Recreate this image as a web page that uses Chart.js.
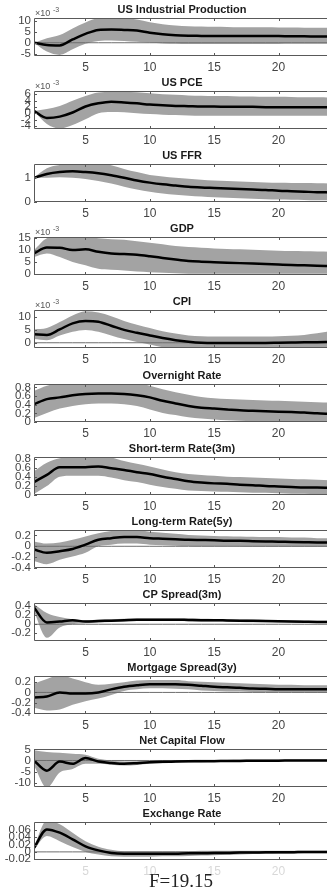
<!DOCTYPE html>
<html>
<head>
<meta charset="utf-8">
<script src="https://cdn.jsdelivr.net/npm/chart.js@4"></script>
<style>
  html, body { margin: 0; padding: 0; background: #fff; overflow: hidden; }
  body { width: 327px; height: 894px; position: relative; }
  canvas { position: absolute; left: 0; }
  #flabel { position: absolute; left: 0; width: 362px; top: 870px; text-align: center;
    font-family: "Liberation Serif", "Times New Roman", serif; font-size: 19px; color: #222; }
</style>
</head>
<body>
<div id="panels"></div>
<div id="flabel">F=19.15</div>
<script>
var horizons = [1,2,3,4,5,6,7,8,9,10,11,12,13,14,15,16,17,18,19,20,21,22,23,24];
var xTicks = [5, 10, 15, 20];

var ipMid = [0,-1,-1.2,1.5,4,5.8,6,5.8,5.5,4.5,3.8,3.4,3.2,3.1,3.0,3.0,3.0,3.0,3.0,3.0,2.9,2.9,2.8,2.8];
var ipHi  = [0,2,3.5,6.5,9.2,11.2,11.5,11.3,10.5,9.3,8.4,7.8,7.5,7.3,7.2,7.1,7.0,7.0,7.0,6.9,6.9,6.8,6.8,6.8];
var ipLo  = [0,-4,-5.5,-3,-0.5,0.8,1,0.8,0.4,0,-0.3,-0.5,-0.6,-0.6,-0.6,-0.6,-0.6,-0.6,-0.6,-0.6,-0.5,-0.5,-0.5,-0.5];
var ipTicks = [-5, 0, 5, 10];

var pceMid = [0.7,-1.5,-1.1,0.2,2.1,3.1,3.6,3.4,3.1,2.7,2.5,2.3,2.2,2.1,2.1,2.0,2.0,2.0,1.9,1.9,1.9,1.9,1.9,1.9];
var pceHi  = [0.7,1.3,2.3,3.9,5.4,6.5,6.7,6.7,6.6,6.3,6.0,5.8,5.6,5.5,5.4,5.4,5.3,5.3,5.2,5.2,5.1,5.0,5.0,4.9];
var pceLo  = [0.7,-3.4,-4.8,-3.7,-1.9,0,0.4,0.3,0,-0.3,-0.5,-0.6,-0.7,-0.8,-0.8,-0.8,-0.8,-0.8,-0.8,-0.8,-0.8,-0.8,-0.8,-0.8];
var pceTicks = [-4, -2, 0, 2, 4, 6];

var ffrMid = [0.99,1.14,1.22,1.25,1.22,1.17,1.09,0.99,0.88,0.79,0.72,0.67,0.62,0.59,0.57,0.55,0.53,0.51,0.49,0.46,0.44,0.42,0.40,0.39];
var ffrHi  = [1.0,1.38,1.51,1.58,1.6,1.58,1.5,1.35,1.22,1.1,1.04,0.99,0.95,0.91,0.88,0.86,0.84,0.82,0.8,0.79,0.78,0.77,0.76,0.75];
var ffrLo  = [1.0,0.99,1.01,0.99,0.94,0.86,0.75,0.62,0.51,0.42,0.35,0.3,0.26,0.22,0.19,0.17,0.15,0.13,0.11,0.1,0.09,0.08,0.07,0.07];
var ffrTicks = [0, 1];

var gdpMid = [8.6,11.1,11.0,10.0,10.3,9.3,8.6,8.3,8.0,7.4,6.7,6.0,5.4,5.1,4.9,4.7,4.5,4.3,4.1,3.9,3.7,3.6,3.4,3.3];
var gdpHi  = [10,15,15.8,15.8,15.6,15,14.6,14.3,13.7,13.1,12.4,11.7,11.3,11.0,10.7,10.5,10.3,10.1,9.9,9.7,9.6,9.5,9.4,9.3];
var gdpLo  = [7.1,8.6,7.1,5.0,3.6,2.1,1.7,1.4,1.0,0.7,0.4,0.2,0,0,0,0,0,0,0,0,0,0,0,0];
var gdpTicks = [0, 5, 10, 15];

var cpiMid = [3.2,3.0,5.1,7.4,8.3,8.0,6.5,4.9,3.8,2.8,1.8,1.0,0.4,0.0,-0.1,-0.1,-0.1,-0.1,-0.1,0.0,0.1,0.2,0.2,0.3];
var cpiHi  = [5.1,5.6,7.9,10.4,12,11.5,10.1,8.3,6.9,5.6,4.4,3.5,2.8,2.5,2.4,2.4,2.4,2.4,2.4,2.5,2.7,3.0,3.6,4.4];
var cpiLo  = [1.4,1.0,2.8,4.2,4.9,4.2,2.8,1.4,0.3,-0.7,-1.7,-2.2,-2.6,-2.8,-2.9,-2.9,-2.9,-2.9,-2.9,-2.8,-2.8,-2.8,-3.0,-3.2];
var cpiTicks = [0, 5, 10];

var onMid = [0.41,0.53,0.57,0.62,0.65,0.66,0.66,0.65,0.62,0.57,0.49,0.43,0.37,0.33,0.31,0.29,0.27,0.26,0.25,0.24,0.23,0.22,0.2,0.19];
var onHi  = [0.72,0.84,0.9,0.92,0.93,0.93,0.93,0.92,0.9,0.84,0.76,0.69,0.63,0.58,0.55,0.53,0.52,0.51,0.5,0.49,0.48,0.47,0.46,0.45];
var onLo  = [0.09,0.21,0.31,0.37,0.41,0.43,0.43,0.41,0.37,0.29,0.21,0.16,0.11,0.08,0.06,0.04,0.03,0.02,0.01,0.0,0.0,0.01,0.01,0.01];
var rateTicks = [0, 0.2, 0.4, 0.6, 0.8];

var stMid = [0.29,0.45,0.62,0.62,0.62,0.64,0.6,0.56,0.51,0.47,0.41,0.36,0.31,0.28,0.26,0.25,0.23,0.22,0.2,0.19,0.18,0.17,0.17,0.16];
var stHi  = [0.53,0.72,0.82,0.86,0.87,0.86,0.84,0.76,0.7,0.64,0.57,0.51,0.47,0.45,0.43,0.41,0.4,0.39,0.38,0.37,0.36,0.35,0.34,0.33];
var stLo  = [0.02,0.2,0.41,0.43,0.43,0.43,0.39,0.33,0.29,0.23,0.18,0.14,0.1,0.09,0.08,0.07,0.06,0.05,0.05,0.04,0.03,0.03,0.02,0.02];

var ltMid = [-0.06,-0.12,-0.09,-0.05,0.03,0.12,0.15,0.17,0.17,0.15,0.14,0.13,0.12,0.115,0.11,0.1,0.1,0.095,0.09,0.085,0.08,0.075,0.07,0.07];
var ltHi  = [0.09,0.05,0.07,0.12,0.18,0.24,0.28,0.3,0.3,0.27,0.25,0.23,0.21,0.2,0.19,0.185,0.18,0.175,0.17,0.17,0.16,0.16,0.15,0.15];
var ltLo  = [-0.27,-0.33,-0.25,-0.19,-0.12,0.0,0.03,0.05,0.05,0.03,0.02,0.01,0.005,0.0,0.0,0.0,-0.005,-0.01,-0.01,-0.01,-0.01,-0.01,-0.01,-0.01];
var spreadTicks = [-0.4, -0.2, 0, 0.2];

var cpMid = [0.37,0.04,0.06,0.09,0.06,0.07,0.08,0.09,0.1,0.1,0.1,0.1,0.095,0.09,0.09,0.085,0.08,0.075,0.07,0.065,0.06,0.055,0.05,0.05];
var cpHi  = [0.45,0.25,0.16,0.11,0.09,0.1,0.11,0.12,0.13,0.13,0.13,0.13,0.125,0.12,0.115,0.11,0.105,0.1,0.095,0.09,0.085,0.08,0.075,0.075];
var cpLo  = [0.28,-0.3,-0.07,0.0,0.02,0.04,0.05,0.06,0.07,0.07,0.07,0.07,0.065,0.06,0.06,0.055,0.05,0.045,0.045,0.04,0.035,0.03,0.03,0.03];
var cpTicks = [-0.2, 0, 0.2, 0.4];

var mgMid = [-0.1,-0.08,0.0,-0.02,-0.02,0.0,0.06,0.11,0.14,0.16,0.16,0.16,0.15,0.13,0.11,0.1,0.09,0.075,0.07,0.06,0.06,0.06,0.06,0.06];
var mgHi  = [0.17,0.26,0.34,0.27,0.2,0.15,0.17,0.2,0.23,0.24,0.24,0.24,0.22,0.21,0.2,0.19,0.18,0.17,0.16,0.15,0.15,0.14,0.14,0.14];
var mgLo  = [-0.3,-0.35,-0.33,-0.24,-0.17,-0.12,-0.05,0.03,0.06,0.08,0.08,0.07,0.06,0.04,0.03,0.02,0.02,0.01,0.01,0.01,0.0,0.0,0.0,0.0];

var ncfMid = [0,-4.6,-0.5,-1.5,1.1,-0.5,-1.1,-1.5,-1.2,-0.8,-0.6,-0.5,-0.4,-0.3,-0.3,-0.2,-0.2,-0.1,-0.1,-0.1,0,0,0,0];
var ncfHi  = [4.6,3.8,3.5,3.1,2.6,0.8,0.0,-0.5,-0.4,-0.2,0,0.1,0.2,0.3,0.3,0.3,0.4,0.4,0.4,0.4,0.4,0.4,0.4,0.4];
var ncfLo  = [-2.3,-12.3,-5.4,-3.8,-1.5,-1.5,-1.9,-2.3,-2.0,-1.5,-1.2,-1.0,-0.9,-0.8,-0.7,-0.6,-0.5,-0.5,-0.5,-0.4,-0.4,-0.4,-0.4,-0.4];
var ncfTicks = [-10, -5, 0, 5];

var fxMid = [0.011,0.061,0.052,0.034,0.015,0.004,-0.003,-0.005,-0.005,-0.005,-0.005,-0.005,-0.004,-0.004,-0.003,-0.003,-0.002,-0.002,-0.001,-0.001,-0.001,0,0,0];
var fxHi  = [0.015,0.085,0.075,0.052,0.029,0.014,0.006,0.002,0.002,0.002,0.002,0.002,0.002,0.003,0.003,0.003,0.003,0.003,0.003,0.003,0.003,0.003,0.003,0.003];
var fxLo  = [0.006,0.043,0.029,0.013,0.0,-0.007,-0.012,-0.013,-0.013,-0.013,-0.012,-0.012,-0.011,-0.01,-0.009,-0.008,-0.007,-0.006,-0.006,-0.005,-0.005,-0.004,-0.004,-0.004];
var fxTicks = [-0.02, 0, 0.02, 0.04, 0.06];

var panels = [
  { title: 'US Industrial Production', mid: ipMid, hi: ipHi, lo: ipLo, ticks: ipTicks, min: -6, max: 11.2, exp: true, zero: true },
  { title: 'US PCE', mid: pceMid, hi: pceHi, lo: pceLo, ticks: pceTicks, min: -5, max: 7, exp: true, zero: false },
  { title: 'US FFR', mid: ffrMid, hi: ffrHi, lo: ffrLo, ticks: ffrTicks, min: 0, max: 1.55, exp: false, zero: false },
  { title: 'GDP', mid: gdpMid, hi: gdpHi, lo: gdpLo, ticks: gdpTicks, min: -0.5, max: 15.5, exp: true, zero: false },
  { title: 'CPI', mid: cpiMid, hi: cpiHi, lo: cpiLo, ticks: cpiTicks, min: -2, max: 12.5, exp: true, zero: true },
  { title: 'Overnight Rate', mid: onMid, hi: onHi, lo: onLo, ticks: rateTicks, min: 0, max: 0.88, exp: false, zero: false },
  { title: 'Short-term Rate(3m)', mid: stMid, hi: stHi, lo: stLo, ticks: rateTicks, min: 0, max: 0.85, exp: false, zero: false },
  { title: 'Long-term Rate(5y)', mid: ltMid, hi: ltHi, lo: ltLo, ticks: spreadTicks, min: -0.4, max: 0.3, exp: false, zero: true },
  { title: 'CP Spread(3m)', mid: cpMid, hi: cpHi, lo: cpLo, ticks: cpTicks, min: -0.37, max: 0.47, exp: false, zero: true },
  { title: 'Mortgage Spread(3y)', mid: mgMid, hi: mgHi, lo: mgLo, ticks: spreadTicks, min: -0.42, max: 0.32, exp: false, zero: true },
  { title: 'Net Capital Flow', mid: ncfMid, hi: ncfHi, lo: ncfLo, ticks: ncfTicks, min: -12, max: 5.2, exp: false, zero: true },
  { title: 'Exchange Rate', mid: fxMid, hi: fxHi, lo: fxLo, ticks: fxTicks, min: -0.022, max: 0.081, exp: false, zero: true }
];

var fontFamily = '"Liberation Sans", Arial, sans-serif';

// MATLAB style box with inward ticks, plus the x10^-3 exponent
var matlabBox = {
  id: 'matlabBox',
  afterDatasetsDraw: function(chart, args, opts) {
    var ctx = chart.ctx, a = chart.chartArea;
    var sx = chart.scales.x, sy = chart.scales.y;
    ctx.save();
    ctx.strokeStyle = '#595959';
    ctx.lineWidth = 1;
    ctx.beginPath();
    ctx.rect(a.left + 0.5, a.top + 0.5, a.width - 1, a.height - 1);
    sx.ticks.forEach(function(t) {
      var px = Math.round(sx.getPixelForValue(t.value)) + 0.5;
      ctx.moveTo(px, a.bottom); ctx.lineTo(px, a.bottom - 3);
      ctx.moveTo(px, a.top); ctx.lineTo(px, a.top + 3);
    });
    sy.ticks.forEach(function(t) {
      var py = Math.round(sy.getPixelForValue(t.value)) + 0.5;
      ctx.moveTo(a.left, py); ctx.lineTo(a.left + 3, py);
      ctx.moveTo(a.right, py); ctx.lineTo(a.right - 3, py);
    });
    ctx.stroke();
    if (opts.exponent) {
      ctx.fillStyle = '#555';
      ctx.textBaseline = 'alphabetic';
      ctx.font = '9px ' + fontFamily;
      ctx.fillText('\u00d710', a.left + 1, a.top - 2);
      ctx.font = '7px ' + fontFamily;
      ctx.fillText('-3', a.left + 19, a.top - 6);
    }
    ctx.restore();
  }
};

var holder = document.getElementById('panels');

panels.forEach(function(p, i) {
  var plotTop = 18 + 73.1 * i;
  var canvas = document.createElement('canvas');
  canvas.width = 330;
  canvas.height = 78;
  canvas.style.width = '330px';
  canvas.style.height = '78px';
  canvas.style.top = (plotTop - 20) + 'px';
  holder.appendChild(canvas);

  var zeros = horizons.map(function() { return 0; });
  var datasets = [
    { data: p.mid, borderColor: '#000', borderWidth: 2.5, pointRadius: 0, fill: false, cubicInterpolationMode: 'monotone' },
    { data: zeros, borderColor: p.zero ? '#6e6e6e' : 'rgba(0,0,0,0)', borderWidth: 1, pointRadius: 0, fill: false },
    { data: p.hi, borderWidth: 0, borderColor: 'rgba(0,0,0,0)', backgroundColor: 'rgb(163,163,163)', pointRadius: 0, fill: '+1', cubicInterpolationMode: 'monotone' },
    { data: p.lo, borderWidth: 0, borderColor: 'rgba(0,0,0,0)', pointRadius: 0, fill: false, cubicInterpolationMode: 'monotone' }
  ];

  var yTicks = p.ticks;
  var last = i === panels.length - 1;

  new Chart(canvas, {
    type: 'line',
    data: { labels: horizons, datasets: datasets },
    plugins: [matlabBox],
    options: {
      responsive: false,
      animation: false,
      events: [],
      layout: { padding: 0 },
      plugins: {
        legend: { display: false },
        tooltip: { enabled: false },
        title: {
          display: true,
          text: p.title,
          fullSize: false,
          color: '#1a1a1a',
          font: { family: fontFamily, size: 11, weight: 'bold' },
          padding: { top: 5.8, bottom: 1 }
        },
        matlabBox: { exponent: p.exp }
      },
      scales: {
        x: {
          type: 'linear',
          min: 1,
          max: 24,
          afterBuildTicks: function(s) { s.ticks = xTicks.map(function(v) { return { value: v }; }); },
          afterFit: function(s) { s.height = 20; },
          grid: { display: false, drawTicks: false },
          border: { display: false },
          ticks: {
            autoSkip: false,
            maxRotation: 0,
            padding: 4,
            color: last ? '#d8d8d8' : '#444',
            font: { family: fontFamily, size: 12 }
          }
        },
        y: {
          min: p.min,
          max: p.max,
          afterBuildTicks: function(s) { s.ticks = yTicks.map(function(v) { return { value: v }; }); },
          afterFit: function(s) { s.width = 34; },
          grid: { display: false, drawTicks: false },
          border: { display: false },
          ticks: {
            autoSkip: false,
            padding: 3,
            color: '#444',
            font: { family: fontFamily, size: 11.5 },
            callback: function(v) { return String(v); }
          }
        }
      }
    }
  });
});
</script>
</body>
</html>
